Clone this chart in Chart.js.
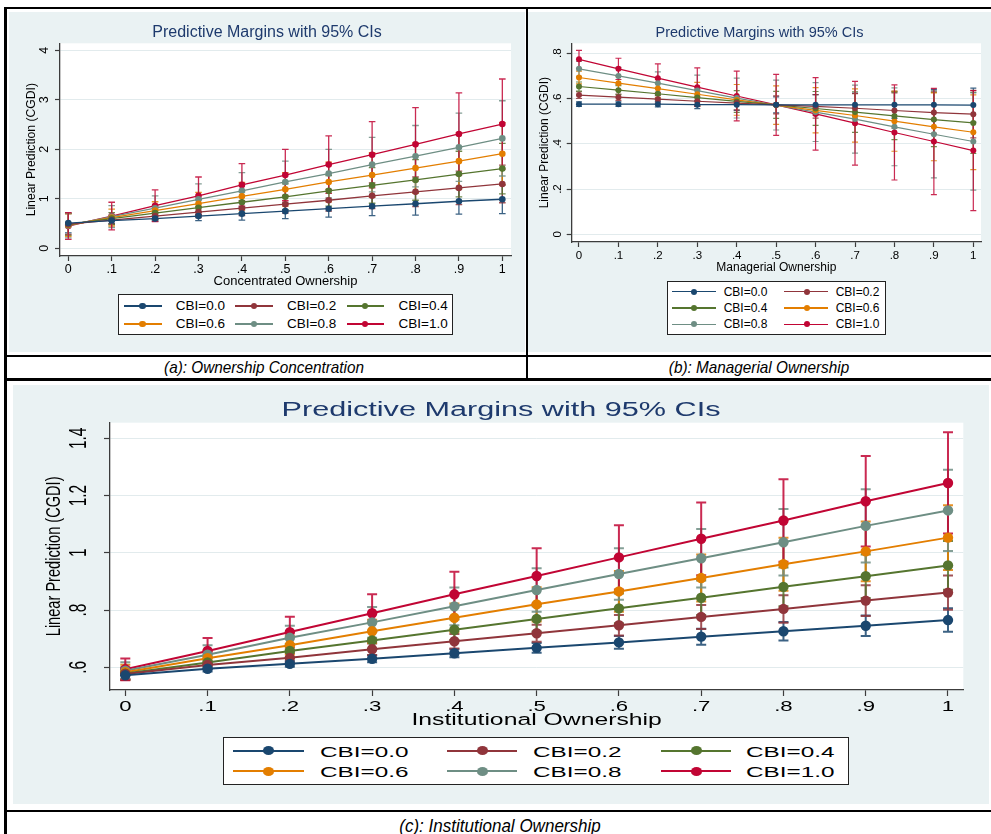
<!DOCTYPE html>
<html>
<head>
<meta charset="utf-8">
<script src="https://cdn.jsdelivr.net/npm/chart.js@4.4.1/dist/chart.umd.min.js"></script>
<style>
body { margin:0; background:#fff; width:991px; height:834px; position:relative; overflow:hidden; font-family:"Liberation Sans", Arial, sans-serif; }
.ln { position:absolute; background:#000; }
canvas { position:absolute; background:#eaf2f3; }
.cap { position:absolute; font-style:italic; white-space:nowrap; color:#000; transform-origin:center center; }
.lg { position:absolute; background:#fff; border:1px solid #222; box-sizing:border-box; }
.lgi { position:absolute; }
.lgt { position:absolute; white-space:nowrap; color:#000; transform-origin:left center; line-height:1; }
</style>
</head>
<body>
<div class="ln" style="left:4px;top:7px;width:987px;height:2px"></div>
<div class="ln" style="left:4px;top:7px;width:3px;height:827px"></div>
<div class="ln" style="left:526px;top:7px;width:2px;height:373px"></div>
<div class="ln" style="left:4px;top:355px;width:987px;height:2px"></div>
<div class="ln" style="left:4px;top:378px;width:987px;height:3px"></div>
<div class="ln" style="left:4px;top:810px;width:987px;height:2px"></div>

<canvas id="chartA" width="516" height="340" style="left:9px;top:12px"></canvas>
<canvas id="chartB" width="463" height="340" style="left:528px;top:12px"></canvas>
<canvas id="chartC" width="976" height="419" style="left:13px;top:385px"></canvas>

<div class="cap" id="capA" style="left:264px;top:367.5px;font-size:17px"></div>
<div class="cap" id="capB" style="left:758.5px;top:367.5px;font-size:17px"></div>
<div class="cap" id="capC" style="left:500px;top:826px;font-size:18.5px"></div>

<script>
// ---- data ----
const xVals = [0, .1, .2, .3, .4, .5, .6, .7, .8, .9, 1];
const xTickLabels = ["0", ".1", ".2", ".3", ".4", ".5", ".6", ".7", ".8", ".9", "1"];
const seriesLabels = ["CBI=0.0", "CBI=0.2", "CBI=0.4", "CBI=0.6", "CBI=0.8", "CBI=1.0"];
const seriesColors = ["#1a476f", "#90353b", "#55752f", "#e37e00", "#6e8e84", "#c10534"];

const chartTitle = "Predictive Margins with 95% CIs";
const yAxisTitle = "Linear Prediction (CGDI)";

// (a) concentrated ownership
const xTitleA = "Concentrated Ownership";
const captionA = "(a): Ownership Concentration";
const yTicksA = [0, 1, 2, 3, 4];
const yTickLabelsA = ["0", "1", "2", "3", "4"];
const aCBI00 = [0.51, 0.56, 0.60, 0.65, 0.70, 0.75, 0.80, 0.85, 0.90, 0.95, 0.99];
const aCBI02 = [0.49, 0.57, 0.65, 0.73, 0.81, 0.89, 0.97, 1.06, 1.14, 1.22, 1.30];
const aCBI04 = [0.48, 0.60, 0.71, 0.82, 0.93, 1.04, 1.16, 1.27, 1.38, 1.50, 1.61];
const aCBI06 = [0.47, 0.62, 0.76, 0.90, 1.05, 1.19, 1.34, 1.48, 1.62, 1.76, 1.91];
const aCBI08 = [0.46, 0.64, 0.81, 0.99, 1.16, 1.34, 1.51, 1.69, 1.86, 2.04, 2.22];
const aCBI10 = [0.45, 0.65, 0.86, 1.06, 1.28, 1.48, 1.69, 1.89, 2.10, 2.31, 2.51];
// half width of the 95% CI
const aErr00 = [0.20, 0.06, 0.05, 0.09, 0.13, 0.15, 0.17, 0.19, 0.23, 0.26, 0.29];
const aErr02 = [0.21, 0.08, 0.07, 0.11, 0.15, 0.18, 0.22, 0.26, 0.30, 0.34, 0.38];
const aErr04 = [0.22, 0.12, 0.12, 0.16, 0.21, 0.26, 0.31, 0.36, 0.41, 0.46, 0.51];
const aErr06 = [0.23, 0.17, 0.18, 0.23, 0.28, 0.34, 0.40, 0.45, 0.51, 0.57, 0.63];
const aErr08 = [0.25, 0.22, 0.25, 0.31, 0.37, 0.42, 0.49, 0.55, 0.62, 0.69, 0.76];
const aErr10 = [0.27, 0.28, 0.32, 0.38, 0.43, 0.52, 0.58, 0.67, 0.74, 0.83, 0.91];

// (b) managerial ownership
const xTitleB = "Managerial Ownership";
const captionB = "(b): Managerial Ownership";
const yTicksB = [0, .2, .4, .6, .8];
const yTickLabelsB = ["0", ".2", ".4", ".6", ".8"];
const bCBI00 = [0.575, 0.575, 0.575, 0.573, 0.573, 0.572, 0.572, 0.572, 0.572, 0.572, 0.571];
const bCBI02 = [0.615, 0.606, 0.597, 0.588, 0.580, 0.572, 0.565, 0.557, 0.547, 0.538, 0.531];
const bCBI04 = [0.653, 0.637, 0.621, 0.604, 0.587, 0.572, 0.556, 0.540, 0.523, 0.507, 0.492];
const bCBI06 = [0.693, 0.668, 0.644, 0.619, 0.594, 0.571, 0.548, 0.525, 0.500, 0.475, 0.451];
const bCBI08 = [0.731, 0.700, 0.668, 0.635, 0.602, 0.571, 0.540, 0.509, 0.475, 0.442, 0.410];
const bCBI10 = [0.773, 0.731, 0.690, 0.650, 0.611, 0.572, 0.532, 0.491, 0.450, 0.410, 0.370];
const bErr00 = [0.010, 0.010, 0.012, 0.018, 0.025, 0.035, 0.045, 0.052, 0.060, 0.068, 0.075];
const bErr02 = [0.015, 0.014, 0.016, 0.022, 0.030, 0.040, 0.052, 0.065, 0.078, 0.092, 0.105];
const bErr04 = [0.020, 0.020, 0.026, 0.035, 0.048, 0.060, 0.075, 0.090, 0.105, 0.120, 0.135];
const bErr06 = [0.028, 0.030, 0.040, 0.052, 0.068, 0.085, 0.100, 0.118, 0.133, 0.150, 0.165];
const bErr08 = [0.033, 0.038, 0.050, 0.068, 0.088, 0.110, 0.130, 0.150, 0.172, 0.193, 0.215];
const bErr10 = [0.040, 0.047, 0.063, 0.085, 0.110, 0.135, 0.160, 0.185, 0.210, 0.235, 0.265];

// (c) institutional ownership
const xTitleC = "Institutional Ownership";
const captionC = "(c): Institutional Ownership";
const yTicksC = [.6, .8, 1, 1.2, 1.4];
const yTickLabelsC = [".6", ".8", "1", "1.2", "1.4"];
const cCBI00 = [0.572, 0.595, 0.612, 0.630, 0.649, 0.668, 0.687, 0.707, 0.726, 0.745, 0.765];
const cCBI02 = [0.577, 0.608, 0.633, 0.663, 0.691, 0.719, 0.747, 0.776, 0.804, 0.833, 0.861];
const cCBI04 = [0.578, 0.617, 0.657, 0.694, 0.731, 0.769, 0.806, 0.843, 0.881, 0.918, 0.956];
const cCBI06 = [0.583, 0.632, 0.677, 0.726, 0.773, 0.820, 0.865, 0.912, 0.960, 1.005, 1.053];
const cCBI08 = [0.588, 0.644, 0.703, 0.757, 0.813, 0.870, 0.926, 0.981, 1.037, 1.094, 1.148];
const cCBI10 = [0.593, 0.657, 0.723, 0.789, 0.855, 0.919, 0.984, 1.049, 1.113, 1.180, 1.244];
const cErr00 = [0.015, 0.010, 0.010, 0.012, 0.014, 0.017, 0.022, 0.028, 0.032, 0.036, 0.041];
const cErr02 = [0.018, 0.014, 0.016, 0.020, 0.025, 0.030, 0.036, 0.042, 0.048, 0.054, 0.060];
const cErr04 = [0.022, 0.020, 0.024, 0.030, 0.036, 0.044, 0.052, 0.060, 0.068, 0.076, 0.085];
const cErr06 = [0.026, 0.026, 0.032, 0.040, 0.050, 0.060, 0.071, 0.082, 0.093, 0.104, 0.113];
const cErr08 = [0.030, 0.033, 0.042, 0.054, 0.066, 0.076, 0.090, 0.102, 0.116, 0.128, 0.142];
const cErr10 = [0.038, 0.045, 0.054, 0.066, 0.079, 0.097, 0.112, 0.127, 0.144, 0.158, 0.177];

// ---- drawing ----
const axisColor = "#3c3c3c";
const gridColor = "#e2ebed";
const titleColor = "#1e3a6d";
const FONT = '"Liberation Sans", Arial, sans-serif';

function drawText(ctx, s, x, y, size, o) {
    o = o || {};
    ctx.save();
    ctx.translate(x, y);
    ctx.scale(o.sx || 1, 1);
    if (o.rot) ctx.rotate(-Math.PI / 2);
    ctx.font = size + "px " + FONT;
    ctx.fillStyle = o.color || "#000";
    ctx.textAlign = "center";
    ctx.textBaseline = "middle";
    ctx.fillText(s, 0, 0);
    ctx.restore();
}

const plotBg = {
    id: "plotBg",
    beforeDraw(chart) {
        const a = chart.chartArea;
        chart.ctx.save();
        chart.ctx.fillStyle = "#fff";
        chart.ctx.fillRect(a.left, a.top, a.right - a.left, a.bottom - a.top);
        chart.ctx.restore();
    }
};

function errorBars(p) {
    return {
        id: "errorBars",
        beforeDatasetsDraw(chart) {
            const ctx = chart.ctx, xs = chart.scales.x, ys = chart.scales.y;
            chart.data.datasets.forEach((ds) => {
                ctx.save();
                ctx.strokeStyle = ds.borderColor;
                ctx.globalAlpha = 0.85;
                ctx.lineWidth = p.barW;
                ds.data.forEach((pt, i) => {
                    const e = ds.err[i];
                    const px = xs.getPixelForValue(pt.x);
                    const top = ys.getPixelForValue(pt.y + e);
                    const bot = ys.getPixelForValue(pt.y - e);
                    ctx.beginPath();
                    ctx.moveTo(px, top); ctx.lineTo(px, bot);
                    ctx.moveTo(px - p.cap, top); ctx.lineTo(px + p.cap, top);
                    ctx.moveTo(px - p.cap, bot); ctx.lineTo(px + p.cap, bot);
                    ctx.stroke();
                });
                ctx.restore();
            });
        }
    };
}

function panelText(p) {
    return {
        id: "panelText",
        afterDraw(chart) {
            const ctx = chart.ctx, xs = chart.scales.x, ys = chart.scales.y, a = chart.chartArea;
            const t = p.text;
            drawText(ctx, chartTitle, chart.width / 2, t.titleY, t.titleSize, { sx: t.titleSx, color: titleColor });
            xVals.forEach((v, i) => drawText(ctx, xTickLabels[i], xs.getPixelForValue(v), t.xLabY, t.xLabSize, { sx: t.xLabSx }));
            p.yTicks.forEach((v, i) => drawText(ctx, p.yLabels[i], t.yLabX, ys.getPixelForValue(v), t.yLabSize, { sx: t.yLabSx, rot: true }));
            drawText(ctx, p.xTitle, (a.left + a.right) / 2, t.xTitleY, t.xTitleSize, { sx: t.xTitleSx });
            drawText(ctx, yAxisTitle, t.yTitleX, (a.top + a.bottom) / 2, t.yTitleSize, { sx: t.yTitleSx, rot: true });
        }
    };
}

function buildPanel(canvasId, p) {
    const datasets = p.series.map((vals, i) => ({
        label: seriesLabels[i],
        data: xVals.map((x, j) => ({ x: x, y: vals[j] })),
        err: p.errs[i],
        borderColor: seriesColors[i],
        backgroundColor: seriesColors[i],
        borderWidth: p.lineW,
        pointRadius: p.pointR,
        pointBorderWidth: 0,
        tension: 0,
        fill: false
    }));
    new Chart(document.getElementById(canvasId), {
        type: "line",
        data: { datasets: datasets },
        options: {
            responsive: false,
            animation: false,
            devicePixelRatio: 1,
            events: [],
            layout: { padding: p.pad, autoPadding: false },
            plugins: { legend: { display: false }, tooltip: { enabled: false }, title: { display: false } },
            scales: {
                x: {
                    type: "linear", min: p.xMin, max: p.xMax,
                    afterBuildTicks: (s) => { s.ticks = xVals.map((v) => ({ value: v })); },
                    afterFit: (s) => { s.height = 0; },
                    ticks: { display: false },
                    grid: { drawOnChartArea: false, drawTicks: true, tickLength: p.tickLen, tickColor: axisColor, tickWidth: 1.2 },
                    border: { display: true, color: axisColor, width: 1.3 }
                },
                y: {
                    type: "linear", min: p.yMin, max: p.yMax,
                    afterBuildTicks: (s) => { s.ticks = p.yTicks.map((v) => ({ value: v })); },
                    afterFit: (s) => { s.width = 0; },
                    ticks: { display: false },
                    grid: { color: gridColor, lineWidth: 1, drawTicks: true, tickLength: p.tickLen, tickColor: axisColor, tickWidth: 1.2 },
                    border: { display: true, color: axisColor, width: 1.3 }
                }
            }
        },
        plugins: [plotBg, errorBars(p), panelText(p)]
    });
}

function buildLegend(spec) {
    const box = document.createElement("div");
    box.className = "lg";
    Object.assign(box.style, {
        left: spec.box[0] + "px", top: spec.box[1] + "px",
        width: (spec.box[2] - spec.box[0]) + "px", height: (spec.box[3] - spec.box[1]) + "px"
    });
    document.body.appendChild(box);
    seriesLabels.forEach((lab, i) => {
        const col = spec.cols[i % spec.cols.length];
        const cy = spec.rows[Math.floor(i / spec.cols.length)];
        const line = document.createElement("div");
        line.className = "lgi";
        Object.assign(line.style, {
            left: col[0] + "px", top: (cy - spec.lw / 2) + "px",
            width: (col[1] - col[0]) + "px", height: spec.lw + "px", background: seriesColors[i]
        });
        const dot = document.createElement("div");
        dot.className = "lgi";
        Object.assign(dot.style, {
            left: (col[2] - spec.rx) + "px", top: (cy - spec.ry) + "px",
            width: 2 * spec.rx + "px", height: 2 * spec.ry + "px", borderRadius: "50%", background: seriesColors[i]
        });
        const txt = document.createElement("div");
        txt.className = "lgt";
        txt.textContent = lab;
        Object.assign(txt.style, {
            left: col[3] + "px", top: cy + "px", fontSize: spec.font + "px",
            transform: "translateY(-50%) scaleX(" + spec.sx + ")"
        });
        document.body.appendChild(line);
        document.body.appendChild(dot);
        document.body.appendChild(txt);
    });
}

buildPanel("chartA", {
    series: [aCBI00, aCBI02, aCBI04, aCBI06, aCBI08, aCBI10],
    errs: [aErr00, aErr02, aErr04, aErr06, aErr08, aErr10],
    yTicks: yTicksA, yLabels: yTickLabelsA, xTitle: xTitleA,
    pad: { left: 51, right: 14, top: 31.3, bottom: 96 },
    xMin: -0.0191, xMax: 1.0200, yMin: -0.156, yMax: 4.141,
    lineW: 1.3, pointR: 3.3, barW: 1.3, cap: 3.3, tickLen: 5,
    text: { titleY: 20.7, titleSize: 16, titleSx: 1,
            xLabY: 258, xLabSize: 12.5, xLabSx: 1,
            yLabX: 36, yLabSize: 12.5, yLabSx: 1,
            xTitleY: 269.7, xTitleSize: 13, xTitleSx: 1,
            yTitleX: 23, yTitleSize: 12.2, yTitleSx: 1 }
});

buildPanel("chartB", {
    series: [bCBI00, bCBI02, bCBI04, bCBI06, bCBI08, bCBI10],
    errs: [bErr00, bErr02, bErr04, bErr06, bErr08, bErr10],
    yTicks: yTicksB, yLabels: yTickLabelsB, xTitle: xTitleB,
    pad: { left: 43.7, right: 10, top: 31.3, bottom: 110 },
    xMin: -0.0185, xMax: 1.0195, yMin: -0.034, yMax: 0.844,
    lineW: 1.2, pointR: 3, barW: 1.2, cap: 3, tickLen: 5,
    text: { titleY: 21, titleSize: 14.5, titleSx: 1,
            xLabY: 243.7, xLabSize: 11.5, xLabSx: 1,
            yLabX: 30.3, yLabSize: 11.5, yLabSx: 1,
            xTitleY: 255.3, xTitleSize: 12, xTitleSx: 1,
            yTitleX: 17, yTitleSize: 12, yTitleSx: 1 }
});

buildPanel("chartC", {
    series: [cCBI00, cCBI02, cCBI04, cCBI06, cCBI08, cCBI10],
    errs: [cErr00, cErr02, cErr04, cErr06, cErr08, cErr10],
    yTicks: yTicksC, yLabels: yTickLabelsC, xTitle: xTitleC,
    pad: { left: 97, right: 25.7, top: 37.7, bottom: 114 },
    xMin: -0.0186, xMax: 1.0186, yMin: 0.5207, yMax: 1.4545,
    lineW: 2, pointR: 5.2, barW: 2, cap: 5, tickLen: 6,
    text: { titleY: 25.7, titleSize: 19.5, titleSx: 1.57,
            xLabY: 322, xLabSize: 15.3, xLabSx: 1.45,
            yLabX: 67, yLabSize: 15.5, yLabSx: 1.5,
            xTitleY: 335.7, xTitleSize: 16.3, xTitleSx: 1.52,
            yTitleX: 41, yTitleSize: 14.6, yTitleSx: 1.4 }
});

// legends: cols = [line start, line end, marker x, text x]
buildLegend({ box: [118.3, 294, 453, 335], rows: [306, 324],
    cols: [[124.4, 161.6, 142.7, 175.8], [235, 273, 254, 287], [346.5, 383.7, 365, 398.6]],
    font: 13.5, sx: 1, lw: 1.5, rx: 3.4, ry: 3.4 });
buildLegend({ box: [666.7, 280.7, 885.7, 335], rows: [291.7, 308, 324.3],
    cols: [[672, 715.7, 694, 723.7], [784.3, 828.3, 806.7, 835.7]],
    font: 12, sx: 1, lw: 1.4, rx: 3.1, ry: 3.1 });
buildLegend({ box: [222.7, 736.7, 849.3, 785], rows: [750.7, 771.3],
    cols: [[233.3, 304, 268.7, 320], [446.7, 517.3, 482.3, 533.3], [660.7, 730.7, 696.7, 746]],
    font: 15, sx: 1.62, lw: 2.2, rx: 5.6, ry: 4.4 });

const capStyle = [["capA", captionA, 0.9], ["capB", captionB, 0.9], ["capC", captionC, 0.92]];
capStyle.forEach(([id, text, sx]) => {
    const el = document.getElementById(id);
    el.textContent = text;
    el.style.transform = "translate(-50%, -50%) scaleX(" + sx + ")";
});
</script>
</body>
</html>
